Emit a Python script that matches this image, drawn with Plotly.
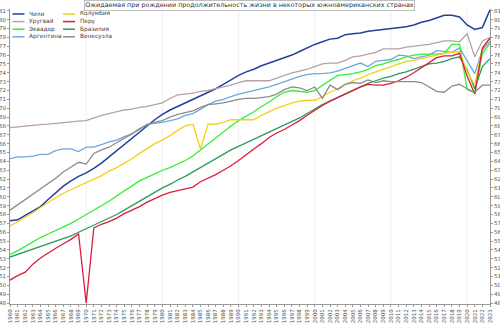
import plotly.graph_objects as go

years = list(range(1960, 2024))

chile = [57.3, 57.4, 57.9, 58.4, 58.9, 59.7, 60.5, 61.2, 61.8, 62.3,
         62.7, 63.2, 63.8, 64.5, 65.2, 66.0, 66.7, 67.4, 68.1, 68.7,
         69.3, 69.8, 70.2, 70.6, 71.0, 71.4, 71.8, 72.2, 72.7, 73.2,
         73.7, 74.1, 74.4, 74.8, 75.1, 75.4, 75.7, 76.0, 76.4, 76.8,
         77.2, 77.5, 77.8, 77.9, 78.3, 78.4, 78.5, 78.7, 78.8, 78.9,
         79.0, 79.1, 79.2, 79.4, 79.7, 79.9, 80.2, 80.5, 80.5, 80.3,
         79.4, 78.9, 79.1, 81.1]
uruguay = [67.8, 67.9, 68.0, 68.1, 68.15, 68.2, 68.3, 68.4, 68.5, 68.55,
           68.6, 68.9, 69.2, 69.4, 69.6, 69.8, 69.9, 70.1, 70.2, 70.4,
           70.6, 71.1, 71.5, 71.6, 71.7, 71.9, 72.0, 72.2, 72.4, 72.6,
           72.9, 73.1, 73.1, 73.1, 73.1, 73.4, 73.7, 74.0, 74.2, 74.4,
           74.7, 75.0, 75.1, 75.1, 75.4, 75.8, 75.9, 76.1, 76.3, 76.7,
           76.7, 76.7, 76.9, 77.0, 77.1, 77.2, 77.4, 77.6, 77.6, 77.5,
           78.4, 75.8, 77.6, 78.0]
ecuador = [53.5, 53.9, 54.4, 54.9, 55.4, 55.8, 56.2, 56.6, 57.0, 57.5,
           58.0, 58.5, 59.0, 59.5, 60.1, 60.7, 61.3, 61.8, 62.2, 62.6,
           63.0, 63.3, 63.7, 64.1, 64.6, 65.3, 65.9, 66.6, 67.3, 68.0,
           68.6, 69.1, 69.6, 70.2, 70.7, 71.3, 71.8, 72.0, 71.9, 71.8,
           72.0, 72.6, 73.2, 73.7, 73.8, 73.9, 74.1, 74.4, 74.8, 75.0,
           75.3, 75.5, 75.8, 76.0, 76.1, 76.1, 76.1, 76.2, 77.2, 77.2,
           72.1, 71.7, 76.2, 77.3]
argentina = [64.3, 64.5, 64.5, 64.6, 64.8, 64.8, 65.2, 65.4, 65.4, 65.1,
             65.6, 65.6, 65.9, 66.2, 66.4, 66.8, 67.1, 67.6, 68.2, 68.3,
             68.4, 68.6, 68.8, 69.2, 69.4, 69.9, 70.4, 70.8, 71.0, 71.3,
             71.6, 71.8, 72.0, 72.2, 72.4, 72.7, 73.0, 73.3, 73.6, 73.8,
             73.9, 73.9, 74.0, 74.2, 74.5, 74.8, 75.1, 74.7, 75.3, 75.4,
             75.5, 76.0, 75.9, 75.6, 75.8, 76.0, 76.5, 76.4, 76.3, 76.8,
             75.3, 73.9, 76.6, 77.5]
colombia = [56.7, 57.2, 57.7, 58.2, 58.8, 59.4, 59.9, 60.4, 60.8, 61.2,
            61.6, 62.0, 62.4, 62.9, 63.3, 63.8, 64.3, 64.9, 65.5, 66.0,
            66.4, 66.9, 67.5, 68.0, 68.2, 65.4, 68.2, 68.2, 68.4, 68.7,
            68.7, 68.7, 68.7, 69.2, 69.6, 70.0, 70.3, 70.6, 70.8, 70.9,
            70.9, 71.3, 71.8, 72.2, 72.7, 73.1, 73.4, 73.8, 74.1, 74.4,
            74.7, 75.0, 75.3, 75.4, 75.6, 75.8, 76.0, 76.2, 76.3, 76.4,
            74.1, 72.6, 76.8, 77.9]
peru = [50.6, 51.1, 51.5, 52.4, 53.1, 53.7, 54.2, 54.7, 55.2, 55.8,
        48.0, 56.5, 56.9, 57.2, 57.6, 58.1, 58.5, 58.9, 59.4, 59.8,
        60.2, 60.5, 60.7, 60.9, 61.1, 61.7, 62.1, 62.5, 63.0, 63.5,
        64.1, 64.8, 65.4, 66.0, 66.7, 67.2, 67.6, 68.1, 68.6, 69.2,
        69.8, 70.3, 70.8, 71.2, 71.6, 72.0, 72.4, 72.7, 72.6, 72.6,
        72.8, 73.1, 73.5, 74.0, 74.6, 75.1, 75.7, 75.9, 75.9, 76.2,
        73.6, 71.6, 76.8, 77.9]
brazil = [53.2, 53.5, 53.8, 54.1, 54.4, 54.7, 55.0, 55.3, 55.6, 56.0,
          56.4, 56.8, 57.2, 57.6, 58.0, 58.5, 59.0, 59.5, 60.0, 60.5,
          61.0, 61.4, 61.9, 62.3, 62.8, 63.3, 63.8, 64.3, 64.8, 65.3,
          65.7, 66.1, 66.5, 66.9, 67.3, 67.7, 68.1, 68.5, 68.9, 69.4,
          69.9, 70.4, 70.8, 71.2, 71.6, 72.0, 72.4, 72.8, 73.1, 73.4,
          73.6, 73.9, 74.1, 74.4, 74.7, 75.0, 75.1, 75.3, 75.6, 75.8,
          74.3, 72.2, 74.7, 75.6]
venezuela = [58.5, 59.1, 59.7, 60.3, 60.8, 61.4, 62.1, 62.8, 63.4, 63.9,
             63.7, 64.9, 65.3, 65.6, 66.1, 66.6, 67.1, 67.7, 68.1, 68.4,
             68.6, 69.0, 69.3, 69.5, 69.7, 70.1, 70.4, 70.5, 70.6, 70.8,
             71.0, 71.1, 71.1, 71.2, 71.3, 71.6, 72.1, 72.4, 72.3, 72.0,
             72.4, 71.1, 72.6, 72.1, 72.7, 72.9, 72.8, 73.2, 72.9, 73.1,
             73.0, 73.0, 73.0, 73.0, 72.9, 72.4, 71.9, 71.8, 72.5, 72.7,
             72.2, 71.8, 72.6, 72.6]

names = ["Чили", "Уругвай", "Эквадор", "Аргентина",
         "Колумбия", "Перу", "Бразилия", "Венесуэла"]
series = [chile, uruguay, ecuador, argentina, colombia, peru, brazil, venezuela]
colors = ["#23409a", "#b8a0a6", "#33ee33", "#6fa8dc",
          "#f4cf1a", "#dc1e3c", "#2e9b5e", "#8c8c8c"]
decades = [1960, 1970, 1980, 1990, 2000, 2010, 2020]
title = "Ожидаемая при рождении продолжительность жизни в некоторых южноамериканских странах"

W, H = 500, 323
ML, MR, MT, MB = 10, 10, 9, 19
PW, PH = W - ML - MR, H - MT - MB

def px_x(px):
    return (px - ML) / PW

def px_y(py):
    return 1 - (py - MT) / PH

fig = go.Figure()
order = [7, 0, 1, 3, 6, 2, 4, 5]
for i in order:
    fig.add_trace(go.Scatter(
        x=years, y=series[i], mode="lines", name=names[i],
        line=dict(color=colors[i], width=1.5 if i == 0 else 1.3), showlegend=False,
        yaxis="y2" if i == 7 else "y"))

shapes = []
for d in decades:
    shapes.append(dict(type="line", xref="x", yref="paper", x0=d, x1=d, y0=0, y1=1,
                       line=dict(color="#efefef", width=1), layer="below"))

annotations = []
for i, nm in enumerate(names):
    col, row = divmod(i, 4)
    x0 = 12.5 + col * 50.5
    y0 = 14 + row * 7.6
    shapes.append(dict(type="line", xref="paper", yref="paper",
                       x0=px_x(x0), x1=px_x(x0 + 12), y0=px_y(y0), y1=px_y(y0),
                       line=dict(color=colors[i], width=1.5)))
    annotations.append(dict(text=nm, xref="paper", yref="paper",
                            x=px_x(x0 + 14.5), y=px_y(y0), xanchor="left", yanchor="middle",
                            showarrow=False, font=dict(size=5.8, color="#444")))

annotations.append(dict(text=title, xref="paper", yref="paper", x=px_x(249), y=px_y(0),
                        xanchor="center", yanchor="top", showarrow=False,
                        font=dict(size=6.4, color="#333"),
                        bordercolor="#b0b0b0", borderwidth=0.8, borderpad=0.5,
                        bgcolor="white"))

axis_common = dict(range=[47.9, 81.2], tickmode="linear", tick0=48, dtick=1,
                   ticks="outside", ticklen=2, tickcolor="#999",
                   tickfont=dict(size=5.5, color="#555"), showline=True,
                   linecolor="#999", linewidth=1, showgrid=False, zeroline=False,
                   automargin=False, fixedrange=True)

fig.update_layout(
    width=W, height=H,
    margin=dict(l=ML, r=MR, t=MT, b=MB),
    plot_bgcolor="white", paper_bgcolor="white",
    font=dict(family="DejaVu Sans"),
    xaxis=dict(range=[1960, 2023], tickmode="linear", tick0=1960, dtick=1,
               tickangle=-90, ticks="outside", ticklen=2, tickcolor="#999",
               tickfont=dict(size=5.5, color="#555"), showline=True,
               linecolor="#999", linewidth=1, showgrid=False, zeroline=False,
               automargin=False),
    yaxis=dict(side="left", **axis_common),
    yaxis2=dict(side="right", overlaying="y", **axis_common),
    shapes=shapes, annotations=annotations, showlegend=False,
)

fig.write_html("out.html")
